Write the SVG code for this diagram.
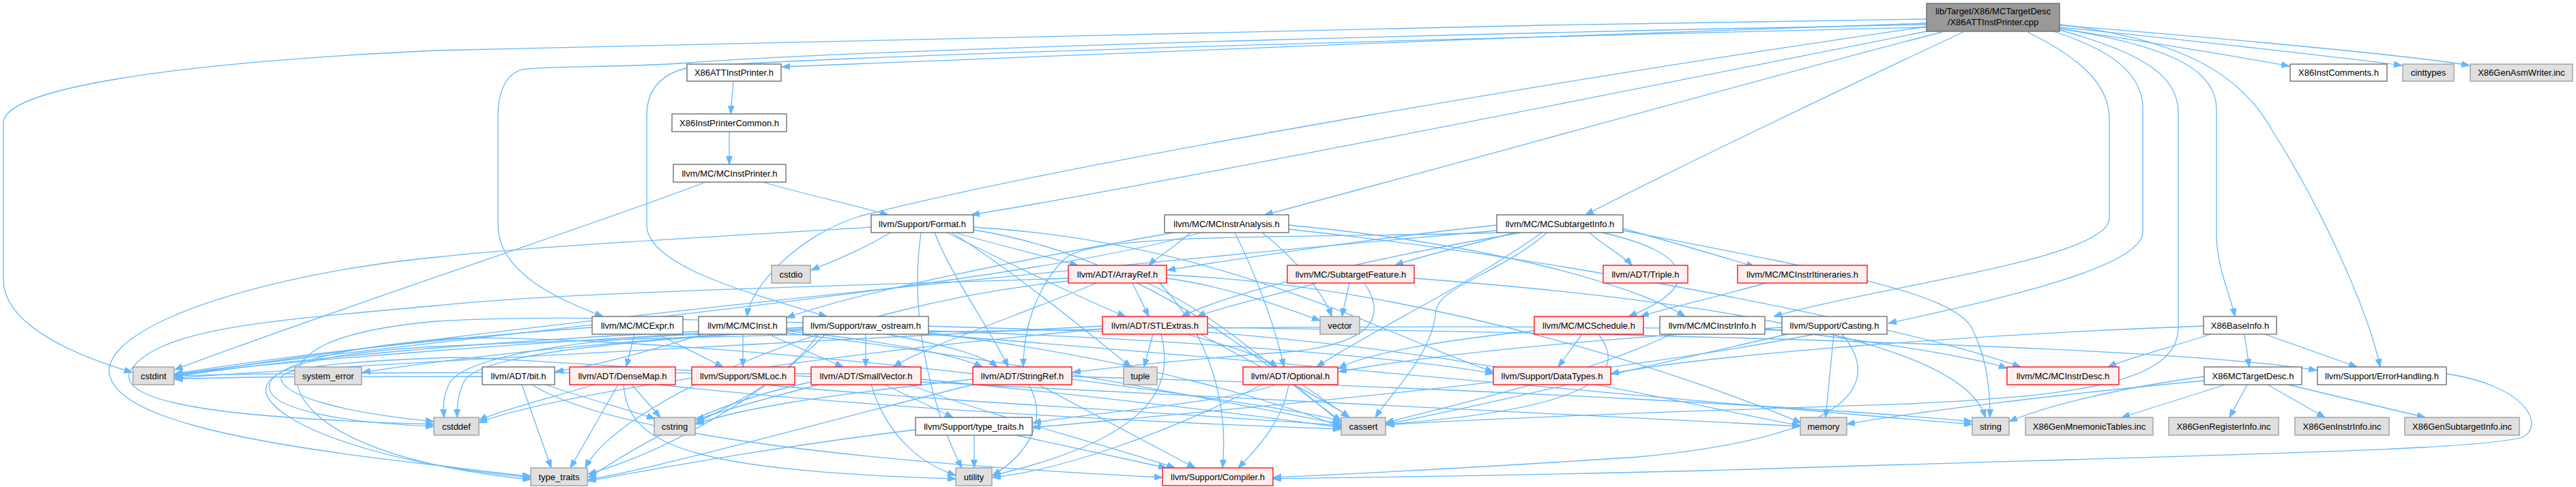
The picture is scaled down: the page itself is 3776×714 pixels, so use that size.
<svg xmlns="http://www.w3.org/2000/svg" width="3776" height="714" viewBox="0 0 3776 714">
<style>
.e{fill:none;stroke:#63b8ff;stroke-width:1.3;marker-end:url(#a)}
.n rect{stroke-width:1.3}
.w rect{fill:#ffffff;stroke:#666666}
.g rect{fill:#e0e0e0;stroke:#999999}
.r rect{fill:#fff0f0;stroke:#ff0000}
.m rect{fill:#999999;stroke:#666666}
text{font-family:"Liberation Sans",Arial,Helvetica,sans-serif;font-size:13px;fill:#000000;text-anchor:middle}
</style>
<defs>
<marker id="a" markerWidth="13" markerHeight="10" refX="12" refY="4.5" orient="auto" markerUnits="userSpaceOnUse">
<path d="M0,0 L12,4.5 L0,9 z" fill="#63b8ff" stroke="#63b8ff" stroke-width="1"/>
</marker>
</defs>
<rect width="3776" height="714" fill="#ffffff"/>
<g id="edges">
<path class="e" d="M2824,34 C2300,50 1500,85 1146,98"/>
<path class="e" d="M3019,42 C3150,62 3290,85 3356,97"/>
<path class="e" d="M3019,40 C3200,58 3440,85 3521,96"/>
<path class="e" d="M3019,37 C3250,55 3540,82 3620,96"/>
<path class="e" d="M2824,28 C2000,40 1000,60 640,74 C250,92 5,130 5,180 L5,410 C5,470 90,515 194,546"/>
<path class="e" d="M2824,36 C2300,46 1300,70 1010,92 C900,100 800,96 765,102 C738,110 730,140 730,170 L730,330 C730,400 820,440 884,464"/>
<path class="e" d="M2824,40 C2200,55 1300,78 1015,98 C970,106 948,130 948,170 L948,330 C948,390 1100,430 1212,464"/>
<path class="e" d="M2824,39 C2400,100 1600,230 1260,317 C1170,345 1100,420 1095,464"/>
<path class="e" d="M2824,46 C2400,130 1700,270 1424,315"/>
<path class="e" d="M2847,47 C2600,110 2100,250 1854,315"/>
<path class="e" d="M2878,47 C2700,130 2450,250 2324,315"/>
<path class="e" d="M2972,47 C3060,90 3092,130 3092,175 L3092,320 C3092,380 2750,420 2600,464"/>
<path class="e" d="M3010,46 C3100,75 3141,110 3141,160 L3141,340 C3141,395 2900,445 2768,474"/>
<path class="e" d="M3019,42 C3200,70 3249,110 3249,160 L3249,350 C3252,400 3270,435 3276,464"/>
<path class="e" d="M3019,36 C3200,58 3285,110 3330,190 C3400,300 3470,450 3489,538"/>
<path class="e" d="M3019,44 C3150,80 3193,115 3193,165 L3193,480 C3193,560 3050,580 2800,592 C2400,605 2150,615 2032,623"/>
<path class="e" d="M1075,119 L1071,167"/>
<path class="e" d="M1069,193 L1069,241"/>
<path class="e" d="M1118,267 C1180,285 1250,300 1302,315"/>
<path class="e" d="M1034,267 C900,320 500,450 256,542"/>
<path class="e" d="M1305,341 C1275,360 1225,382 1189,396"/>
<path class="e" d="M1400,341 C1450,356 1530,375 1580,389"/>
<path class="e" d="M1388,341 C1450,372 1590,440 1650,464"/>
<path class="e" d="M1370,341 C1392,400 1450,480 1478,538"/>
<path class="e" d="M1395,341 C1490,400 1610,500 1658,538"/>
<path class="e" d="M1427,333 C1800,355 2050,500 2189,545"/>
<path class="e" d="M1427,337 C1700,380 1880,560 1966,617"/>
<path class="e" d="M1350,341 C1330,480 1375,620 1410,686"/>
<path class="e" d="M1277,333 C1000,350 800,360 640,377 C400,400 170,470 160,540 C155,610 350,650 640,682 C700,690 740,695 778,698"/>
<path class="e" d="M1745,341 C1725,360 1695,378 1684,389"/>
<path class="e" d="M1810,341 C1840,400 1870,480 1882,538"/>
<path class="e" d="M1720,341 C1500,380 1250,430 1153,466"/>
<path class="e" d="M1889,336 C2300,380 2800,480 2962,538"/>
<path class="e" d="M1889,330 C2200,360 2400,420 2470,464"/>
<path class="e" d="M1760,341 C1500,420 600,500 256,549"/>
<path class="e" d="M1850,341 C1900,380 1940,430 1952,464"/>
<path class="e" d="M2194,330 C2000,350 1800,382 1711,396"/>
<path class="e" d="M2230,341 C2000,380 1800,430 1732,464"/>
<path class="e" d="M2200,341 C1900,350 1600,340 1560,380 C1520,420 1500,480 1500,538"/>
<path class="e" d="M2330,341 C2350,360 2380,375 2392,389"/>
<path class="e" d="M2379,335 C2450,355 2520,375 2572,391"/>
<path class="e" d="M2348,341 C2480,370 2500,420 2387,464"/>
<path class="e" d="M2220,341 C2150,360 2080,376 2045,389"/>
<path class="e" d="M2268,341 C2200,400 2110,420 2105,455 C2100,520 2040,575 2016,612"/>
<path class="e" d="M2194,338 C1500,400 700,480 256,551"/>
<path class="e" d="M2379,338 C2700,400 2860,430 2890,480 C2910,520 2917,560 2917,612"/>
<path class="e" d="M2260,341 C2150,420 2000,490 1930,538"/>
<path class="e" d="M1660,415 L1684,464"/>
<path class="e" d="M1607,415 C1500,460 1350,510 1310,538"/>
<path class="e" d="M1710,408 C1800,420 1880,450 1935,470"/>
<path class="e" d="M1710,403 C2100,420 2500,560 2640,620"/>
<path class="e" d="M1682,415 C1800,470 1900,570 1967,620"/>
<path class="e" d="M1700,415 C1780,500 1800,600 1792,686"/>
<path class="e" d="M1566,408 C1200,420 800,430 640,448 C400,470 230,480 190,545 C170,600 400,615 636,622"/>
<path class="e" d="M1566,412 C1200,450 900,600 858,686"/>
<path class="e" d="M1690,490 L1677,538"/>
<path class="e" d="M1740,490 C1790,505 1850,520 1872,538"/>
<path class="e" d="M1702,490 C1720,560 1700,640 1455,697"/>
<path class="e" d="M1770,480 C2500,490 3200,510 3396,543"/>
<path class="e" d="M1616,478 C1200,500 600,530 256,554"/>
<path class="e" d="M1616,482 C1200,520 800,580 702,620"/>
<path class="e" d="M1616,486 C1100,470 800,460 640,471 C480,485 430,520 435,560 C445,620 550,680 778,703"/>
<path class="e" d="M1760,490 C1850,540 1950,590 1978,612"/>
<path class="e" d="M1770,487 C2200,520 2500,600 2639,624"/>
<path class="e" d="M930,490 L918,538"/>
<path class="e" d="M964,490 L1060,538"/>
<path class="e" d="M868,480 C600,500 400,525 256,548"/>
<path class="e" d="M1089,490 L1089,538"/>
<path class="e" d="M1126,490 L1236,538"/>
<path class="e" d="M1030,490 C950,515 880,535 814,545"/>
<path class="e" d="M1153,485 C1300,500 1400,520 1440,538"/>
<path class="e" d="M1153,488 C1500,530 1800,590 1966,622"/>
<path class="e" d="M1028,490 C800,500 680,530 660,560 C648,580 650,600 651,612"/>
<path class="e" d="M1024,486 C700,500 400,530 256,552"/>
<path class="e" d="M1269,490 L1269,538"/>
<path class="e" d="M1300,490 C1380,505 1440,520 1462,538"/>
<path class="e" d="M1361,485 C1800,500 2100,530 2189,548"/>
<path class="e" d="M1361,488 C1700,530 1900,600 1966,626"/>
<path class="e" d="M1177,484 C900,500 700,520 680,560 C670,580 670,600 670,612"/>
<path class="e" d="M1177,480 C800,500 400,530 256,550"/>
<path class="e" d="M1200,490 C1150,560 1060,600 1020,620"/>
<path class="e" d="M1361,490 C2000,540 2600,600 2891,622"/>
<path class="e" d="M1177,482 C900,500 700,520 531,546"/>
<path class="e" d="M1210,490 C1100,600 950,670 862,695"/>
<path class="e" d="M765,564 L808,686"/>
<path class="e" d="M800,564 C860,585 920,600 960,614"/>
<path class="e" d="M780,564 C900,640 1300,680 1704,700"/>
<path class="e" d="M707,552 C500,552 350,552 256,556"/>
<path class="e" d="M871,564 C800,585 740,600 702,616"/>
<path class="e" d="M906,564 L836,686"/>
<path class="e" d="M926,564 L968,612"/>
<path class="e" d="M914,564 C920,650 1000,690 1401,702"/>
<path class="e" d="M965,564 C1300,600 1700,620 1966,629"/>
<path class="e" d="M1120,564 C1400,590 1800,610 1966,624"/>
<path class="e" d="M1277,564 C1300,640 1350,680 1401,697"/>
<path class="e" d="M1297,564 L1397,612"/>
<path class="e" d="M1334,564 C1450,610 1650,660 1722,686"/>
<path class="e" d="M1189,560 C1000,600 900,680 862,700"/>
<path class="e" d="M1200,564 C1100,590 1050,605 1020,616"/>
<path class="e" d="M1189,552 C900,540 700,520 640,525 C500,530 410,540 412,555 C415,580 500,605 636,618"/>
<path class="e" d="M1189,548 C800,545 400,546 256,551"/>
<path class="e" d="M1350,556 C1600,580 1850,610 1966,627"/>
<path class="e" d="M1350,560 C1900,590 2400,610 2639,625"/>
<path class="e" d="M1508,564 C1540,620 1500,670 1455,697"/>
<path class="e" d="M1522,564 L1752,686"/>
<path class="e" d="M1426,556 C1200,580 1080,600 1020,622"/>
<path class="e" d="M1426,548 C1000,500 700,490 640,498 C450,515 390,545 395,570 C400,600 500,620 636,625"/>
<path class="e" d="M1426,564 C1200,620 950,690 862,703"/>
<path class="e" d="M1571,556 C1750,580 1900,600 1966,617"/>
<path class="e" d="M1571,552 C2200,570 2700,600 2891,618"/>
<path class="e" d="M1909,564 L1978,612"/>
<path class="e" d="M1889,564 C1880,620 1840,660 1815,686"/>
<path class="e" d="M1870,564 C1800,590 1600,605 1514,620"/>
<path class="e" d="M1850,564 C1700,640 1550,690 1455,700"/>
<path class="e" d="M1428,638 L1428,686"/>
<path class="e" d="M1489,638 L1710,686"/>
<path class="e" d="M1342,630 C1100,660 950,690 862,705"/>
<path class="e" d="M2688,490 L2676,612"/>
<path class="e" d="M2700,490 C2760,560 2720,640 2400,670 C2100,690 1950,696 1866,700"/>
<path class="e" d="M2660,490 C2300,560 1800,600 1513,627"/>
<path class="e" d="M2620,490 C2400,540 2150,600 2031,622"/>
<path class="e" d="M2612,484 C2000,470 1000,490 640,508 C450,518 385,545 390,575 C400,620 550,680 778,700"/>
<path class="e" d="M2612,480 C2300,500 2100,520 1962,545"/>
<path class="e" d="M2587,482 C2750,500 2900,525 2942,540"/>
<path class="e" d="M2450,490 C2300,560 2100,600 2031,620"/>
<path class="e" d="M2319,490 L2284,538"/>
<path class="e" d="M2343,490 C2390,550 2330,600 2032,622"/>
<path class="e" d="M2249,485 C2100,500 2000,520 1962,540"/>
<path class="e" d="M1978,415 L1967,464"/>
<path class="e" d="M2000,415 C2030,460 2020,500 1900,515 C1700,530 1620,540 1572,546"/>
<path class="e" d="M1930,415 C1860,435 1790,450 1755,464"/>
<path class="e" d="M2073,408 C2500,440 2880,500 2910,612"/>
<path class="e" d="M2588,415 C2500,440 2440,452 2405,464"/>
<path class="e" d="M3290,490 L3297,538"/>
<path class="e" d="M3320,490 L3455,538"/>
<path class="e" d="M3240,490 C3180,510 3120,525 3090,538"/>
<path class="e" d="M3230,478 C2900,490 2500,520 2361,548"/>
<path class="e" d="M3262,564 L3110,612"/>
<path class="e" d="M3294,564 L3268,612"/>
<path class="e" d="M3324,564 L3408,612"/>
<path class="e" d="M3354,564 L3555,612"/>
<path class="e" d="M3231,552 C3100,570 3000,595 2945,618"/>
<path class="e" d="M3231,558 C3000,580 2800,605 2707,622"/>
<path class="e" d="M3586,548 C3700,565 3730,620 3700,640 C3650,660 3300,665 2500,690 C2100,700 1950,700 1866,702"/>
</g>
<g id="n_main" class="n m"><rect x="2824" y="5" width="195" height="41"/><text x="2921.5" y="21">lib/Target/X86/MCTargetDesc</text><text x="2921.5" y="37">/X86ATTInstPrinter.cpp</text></g>
<g id="n_attp" class="n w"><rect x="1007" y="94" width="138" height="25"/><text x="1076" y="111">X86ATTInstPrinter.h</text></g>
<g id="n_comments" class="n w"><rect x="3357" y="94" width="142" height="25"/><text x="3428" y="111">X86InstComments.h</text></g>
<g id="n_cinttypes" class="n g"><rect x="3522" y="94" width="75" height="25"/><text x="3559.5" y="111">cinttypes</text></g>
<g id="n_asmwriter" class="n g"><rect x="3621" y="94" width="150" height="25"/><text x="3696" y="111">X86GenAsmWriter.inc</text></g>
<g id="n_common" class="n w"><rect x="985" y="167" width="168" height="26"/><text x="1069" y="184.5">X86InstPrinterCommon.h</text></g>
<g id="n_mcinstprinter" class="n w"><rect x="987" y="241" width="165" height="26"/><text x="1069.5" y="258.5">llvm/MC/MCInstPrinter.h</text></g>
<g id="n_format" class="n w"><rect x="1277" y="315" width="150" height="26"/><text x="1352" y="332.5">llvm/Support/Format.h</text></g>
<g id="n_analysis" class="n w"><rect x="1707" y="315" width="182" height="26"/><text x="1798" y="332.5">llvm/MC/MCInstrAnalysis.h</text></g>
<g id="n_subtarget" class="n w"><rect x="2194" y="315" width="185" height="26"/><text x="2286.5" y="332.5">llvm/MC/MCSubtargetInfo.h</text></g>
<g id="n_cstdio" class="n g"><rect x="1131" y="389" width="57" height="26"/><text x="1159.5" y="406.5">cstdio</text></g>
<g id="n_arrayref" class="n r"><rect x="1566" y="389" width="144" height="26"/><text x="1638" y="406.5">llvm/ADT/ArrayRef.h</text></g>
<g id="n_stfeature" class="n r"><rect x="1887" y="389" width="186" height="26"/><text x="1980" y="406.5">llvm/MC/SubtargetFeature.h</text></g>
<g id="n_triple" class="n r"><rect x="2350" y="389" width="124" height="26"/><text x="2412" y="406.5">llvm/ADT/Triple.h</text></g>
<g id="n_itin" class="n r"><rect x="2547" y="389" width="190" height="26"/><text x="2642" y="406.5">llvm/MC/MCInstrItineraries.h</text></g>
<g id="n_mcexpr" class="n w"><rect x="868" y="464" width="133" height="26"/><text x="934.5" y="481.5">llvm/MC/MCExpr.h</text></g>
<g id="n_mcinst" class="n w"><rect x="1024" y="464" width="129" height="26"/><text x="1088.5" y="481.5">llvm/MC/MCInst.h</text></g>
<g id="n_rawos" class="n w"><rect x="1177" y="464" width="184" height="26"/><text x="1269" y="481.5">llvm/Support/raw_ostream.h</text></g>
<g id="n_stlextras" class="n r"><rect x="1616" y="464" width="154" height="26"/><text x="1693" y="481.5">llvm/ADT/STLExtras.h</text></g>
<g id="n_vector" class="n g"><rect x="1935" y="464" width="58" height="26"/><text x="1964" y="481.5">vector</text></g>
<g id="n_sched" class="n r"><rect x="2249" y="464" width="160" height="26"/><text x="2329" y="481.5">llvm/MC/MCSchedule.h</text></g>
<g id="n_instrinfo" class="n w"><rect x="2433" y="464" width="154" height="26"/><text x="2510" y="481.5">llvm/MC/MCInstrInfo.h</text></g>
<g id="n_casting" class="n w"><rect x="2612" y="464" width="154" height="26"/><text x="2689" y="481.5">llvm/Support/Casting.h</text></g>
<g id="n_baseinfo" class="n w"><rect x="3230" y="464" width="107" height="26"/><text x="3283.5" y="481.5">X86BaseInfo.h</text></g>
<g id="n_cstdint" class="n g"><rect x="195" y="538" width="60" height="26"/><text x="225" y="555.5">cstdint</text></g>
<g id="n_syserr" class="n g"><rect x="432" y="538" width="98" height="26"/><text x="481" y="555.5">system_error</text></g>
<g id="n_bit" class="n w"><rect x="707" y="538" width="106" height="26"/><text x="760" y="555.5">llvm/ADT/bit.h</text></g>
<g id="n_densemap" class="n r"><rect x="835" y="538" width="155" height="26"/><text x="912.5" y="555.5">llvm/ADT/DenseMap.h</text></g>
<g id="n_smloc" class="n r"><rect x="1014" y="538" width="151" height="26"/><text x="1089.5" y="555.5">llvm/Support/SMLoc.h</text></g>
<g id="n_smallvec" class="n r"><rect x="1189" y="538" width="161" height="26"/><text x="1269.5" y="555.5">llvm/ADT/SmallVector.h</text></g>
<g id="n_stringref" class="n r"><rect x="1426" y="538" width="145" height="26"/><text x="1498.5" y="555.5">llvm/ADT/StringRef.h</text></g>
<g id="n_tuple" class="n g"><rect x="1647" y="538" width="49" height="26"/><text x="1671.5" y="555.5">tuple</text></g>
<g id="n_optional" class="n r"><rect x="1822" y="538" width="139" height="26"/><text x="1891.5" y="555.5">llvm/ADT/Optional.h</text></g>
<g id="n_datatypes" class="n r"><rect x="2189" y="538" width="172" height="26"/><text x="2275" y="555.5">llvm/Support/DataTypes.h</text></g>
<g id="n_instrdesc" class="n r"><rect x="2942" y="538" width="164" height="26"/><text x="3024" y="555.5">llvm/MC/MCInstrDesc.h</text></g>
<g id="n_targetdesc" class="n w"><rect x="3231" y="538" width="143" height="26"/><text x="3302.5" y="555.5">X86MCTargetDesc.h</text></g>
<g id="n_errhandling" class="n w"><rect x="3397" y="538" width="189" height="26"/><text x="3491.5" y="555.5">llvm/Support/ErrorHandling.h</text></g>
<g id="n_cstddef" class="n g"><rect x="636" y="612" width="66" height="26"/><text x="669" y="629.5">cstddef</text></g>
<g id="n_cstring" class="n g"><rect x="959" y="612" width="60" height="26"/><text x="989" y="629.5">cstring</text></g>
<g id="n_typetraitsh" class="n w"><rect x="1342" y="612" width="171" height="26"/><text x="1427.5" y="629.5">llvm/Support/type_traits.h</text></g>
<g id="n_cassert" class="n g"><rect x="1966" y="612" width="65" height="26"/><text x="1998.5" y="629.5">cassert</text></g>
<g id="n_memory" class="n g"><rect x="2639" y="612" width="68" height="26"/><text x="2673" y="629.5">memory</text></g>
<g id="n_string" class="n g"><rect x="2891" y="612" width="54" height="26"/><text x="2918" y="629.5">string</text></g>
<g id="n_mnemonic" class="n g"><rect x="2969" y="612" width="187" height="26"/><text x="3062.5" y="629.5">X86GenMnemonicTables.inc</text></g>
<g id="n_reginfo" class="n g"><rect x="3179" y="612" width="161" height="26"/><text x="3259.5" y="629.5">X86GenRegisterInfo.inc</text></g>
<g id="n_instrinfoinc" class="n g"><rect x="3364" y="612" width="138" height="26"/><text x="3433" y="629.5">X86GenInstrInfo.inc</text></g>
<g id="n_subtargetinc" class="n g"><rect x="3525" y="612" width="168" height="26"/><text x="3609" y="629.5">X86GenSubtargetInfo.inc</text></g>
<g id="n_type_traits" class="n g"><rect x="778" y="686" width="83" height="26"/><text x="819.5" y="703.5">type_traits</text></g>
<g id="n_utility" class="n g"><rect x="1401" y="686" width="53" height="26"/><text x="1427.5" y="703.5">utility</text></g>
<g id="n_compiler" class="n r"><rect x="1704" y="686" width="162" height="26"/><text x="1785" y="703.5">llvm/Support/Compiler.h</text></g>
</svg>
